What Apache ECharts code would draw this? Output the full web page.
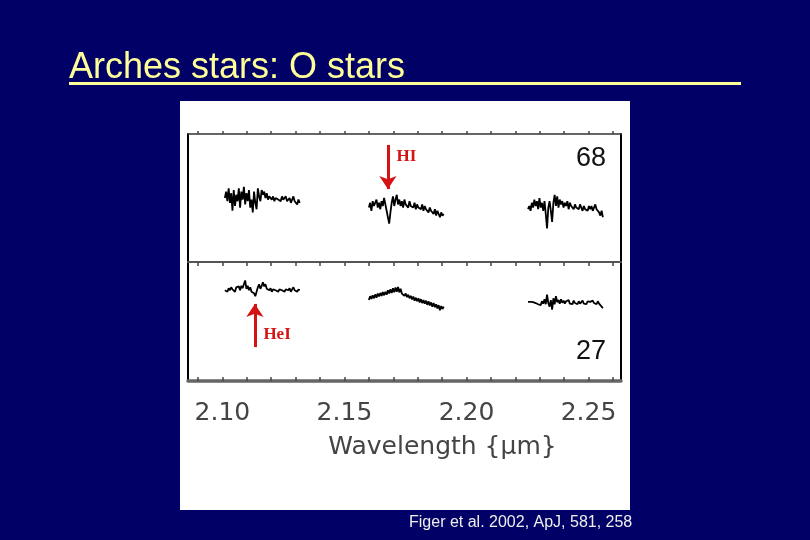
<!DOCTYPE html>
<html><head><meta charset="utf-8">
<script src="https://cdn.jsdelivr.net/npm/echarts@6/dist/echarts.min.js"></script>
<style>html,body{margin:0;padding:0;background:#000066}#c{width:810px;height:540px}</style>
</head><body><div id="c"></div>
<script>
const titleText = 'Arches stars: O stars';
const citation = 'Figer et al. 2002, ApJ, 581, 258';
const axisTitle = 'Wavelength {\u03bcm}';
const starLabels = ['68', '27'];
const lineNames = ['HI', 'HeI'];
const lineWavelengths = [2.1678, 2.1133];
const xMin = 2.0859, xMax = 2.2633;
const minorTicks = [2.09, 2.10, 2.11, 2.12, 2.13, 2.14, 2.15, 2.16, 2.17, 2.18, 2.19, 2.20, 2.21, 2.22, 2.23, 2.24, 2.25, 2.26];
const majorTicks = [2.10, 2.15, 2.20, 2.25];
const segStart = [2.1010, 2.1600, 2.2252];
const sampleStep = 0.00052;

// Star 68 (top panel), normalized flux
const star68_seg1 = [1.00, 1.02, 0.99, 1.03, 0.985, 1.015, 0.96, 1.025, 0.975, 1.01,
  0.99, 1.03, 0.97, 1.02, 0.995, 1.035, 0.98, 1.015, 0.99, 1.025,
  0.97, 0.995, 0.955, 1.02, 0.985, 0.965, 1.03, 1.005, 0.99, 1.025,
  1.01, 1.02, 1.0, 1.015, 0.995, 1.005, 1.01, 0.995, 1.005, 0.99,
  1.0, 1.005, 0.995, 1.0, 0.99, 1.005, 0.995, 1.0, 1.005, 0.99,
  0.995, 1.0, 0.985, 0.995, 1.005, 0.99, 0.995, 0.98, 0.995, 0.985];
const star68_seg2 = [0.97, 0.985, 0.96, 0.99, 0.975, 0.98, 0.995, 0.97, 0.985, 0.965,
  0.99, 0.975, 1.0, 0.98, 0.96, 0.94, 0.92, 0.955, 0.985, 1.005,
  0.975, 0.995, 1.01, 0.98, 0.995, 0.975, 0.99, 0.97, 0.995, 0.98,
  0.985, 0.97, 0.99, 0.975, 0.98, 0.97, 0.985, 0.965, 0.98, 0.97,
  0.975, 0.965, 0.98, 0.96, 0.975, 0.965, 0.97, 0.955, 0.97, 0.96,
  0.965, 0.95, 0.965, 0.945, 0.96, 0.95, 0.94, 0.955, 0.945, 0.95];
const star68_seg3 = [0.965, 0.975, 0.96, 0.985, 0.97, 0.995, 0.975, 0.99, 0.965, 1.0,
  0.97, 0.985, 0.96, 0.99, 0.95, 0.905, 0.97, 0.99, 0.96, 0.925,
  0.985, 1.01, 0.975, 1.005, 0.97, 0.995, 0.98, 0.99, 0.97, 0.985,
  0.975, 0.99, 0.965, 0.985, 0.975, 0.98, 0.965, 0.98, 0.97, 0.975,
  0.965, 0.98, 0.97, 0.96, 0.975, 0.965, 0.97, 0.96, 0.975, 0.965,
  0.975, 0.96, 0.97, 0.98, 0.965, 0.97, 0.955, 0.945, 0.96, 0.94];
// Star 27 (bottom panel)
const star27_seg1 = [1.105, 1.11, 1.10, 1.112, 1.105, 1.115, 1.108, 1.112, 1.10, 1.115,
  1.11, 1.118, 1.105, 1.12, 1.112, 1.125, 1.138, 1.11, 1.12, 1.105,
  1.115, 1.10, 1.105, 1.095, 1.085, 1.10, 1.115, 1.125, 1.11, 1.12,
  1.132, 1.118, 1.125, 1.11, 1.115, 1.105, 1.112, 1.10, 1.108, 1.112,
  1.105, 1.11, 1.10, 1.108, 1.112, 1.105, 1.11, 1.10, 1.108, 1.112,
  1.105, 1.112, 1.10, 1.108, 1.115, 1.105, 1.11, 1.10, 1.108, 1.105];
const star27_seg2 = [1.072, 1.085, 1.076, 1.088, 1.078, 1.091, 1.08, 1.094, 1.084, 1.096,
  1.086, 1.099, 1.088, 1.10, 1.09, 1.105, 1.094, 1.108, 1.096, 1.112,
  1.098, 1.114, 1.10, 1.116, 1.098, 1.11, 1.094, 1.10, 1.086, 1.094,
  1.082, 1.09, 1.078, 1.086, 1.074, 1.084, 1.07, 1.08, 1.068, 1.078,
  1.064, 1.075, 1.062, 1.072, 1.06, 1.07, 1.056, 1.068, 1.054, 1.064,
  1.05, 1.062, 1.048, 1.058, 1.044, 1.055, 1.038, 1.052, 1.042, 1.05];
const star27_seg3 = [1.066, 1.068, 1.066, 1.067, 1.065, 1.066, 1.062, 1.064, 1.058, 1.062,
  1.055, 1.068, 1.06, 1.075, 1.058, 1.09, 1.062, 1.05, 1.072, 1.04,
  1.078, 1.058, 1.085, 1.065, 1.072, 1.06, 1.075, 1.063, 1.07, 1.06,
  1.068, 1.062, 1.072, 1.06, 1.066, 1.058, 1.07, 1.062, 1.065, 1.058,
  1.068, 1.06, 1.066, 1.07, 1.06, 1.065, 1.058, 1.068, 1.062, 1.066,
  1.06, 1.07, 1.062, 1.066, 1.058, 1.068, 1.06, 1.055, 1.05, 1.045];

// arrow extents (flux units) for the line markers
const arrowHI = [1.166, 1.028];
const arrowHeI = [0.914, 1.059];
const labelFluxHI = 1.128, labelFluxHeI = 0.955;

function toPairs(start, vals) { return vals.map((v, i) => [start + i * sampleStep, v]); }

const chart = echarts.init(document.getElementById('c'), null, {renderer: 'canvas'});
const red = '#d41414';
const specStyle = {color: '#000', width: 1.8};
function seg(grid, start, vals, extra) {
  return Object.assign({
    type: 'line', xAxisIndex: grid, yAxisIndex: grid * 2, data: toPairs(start, vals),
    showSymbol: false, lineStyle: specStyle, silent: true, animation: false
  }, extra || {});
}
function arrow(x, y0, y1, name, yl) {
  return {
    markLine: {
      silent: true, symbol: ['none', 'arrow'], symbolSize: 13, label: {show: false},
      lineStyle: {color: red, width: 3, type: 'solid'},
      data: [[{coord: [x, y0]}, {coord: [x, y1]}]], animation: false
    },
    markPoint: {
      silent: true, symbol: 'circle', symbolSize: 1, itemStyle: {color: 'rgba(0,0,0,0)'},
      label: {show: true, position: 'right', distance: 8, formatter: name, color: red,
        fontFamily: 'Liberation Serif', fontWeight: 'bold', fontSize: 17},
      data: [{coord: [x, yl]}], animation: false
    }
  };
}
const tickCommon = {show: true, customValues: minorTicks, lineStyle: {color: '#444', width: 1.5}};
const option = {
  backgroundColor: '#000066',
  animation: false,
  grid: [
    {left: 188, right: 189, top: 134, height: 128},
    {left: 188, right: 189, top: 262, height: 119}
  ],
  xAxis: [
    {gridIndex: 0, type: 'value', min: xMin, max: xMax, position: 'top',
     axisLine: {show: true, lineStyle: {color: '#333', width: 1.5}},
     axisTick: Object.assign({}, tickCommon, {inside: false, length: 3}),
     axisLabel: {show: false}, splitLine: {show: false}},
    {gridIndex: 1, type: 'value', min: xMin, max: xMax, position: 'bottom',
     axisLine: {show: true, lineStyle: {color: '#666', width: 3.5}},
     axisTick: Object.assign({}, tickCommon, {inside: true, length: 4}),
     axisLabel: {show: true, customValues: majorTicks, formatter: v => v.toFixed(2), color: '#444',
       fontFamily: 'DejaVu Sans', fontSize: 25, margin: 20},
     splitLine: {show: false}},
    {gridIndex: 1, type: 'value', min: xMin, max: xMax, position: 'top',
     axisLine: {show: true, lineStyle: {color: '#555', width: 2.2}},
     axisTick: Object.assign({}, tickCommon, {inside: true, length: 4}),
     axisLabel: {show: false}, splitLine: {show: false}}
  ],
  yAxis: [
    {gridIndex: 0, type: 'value', min: 0.8, max: 1.2, position: 'left',
     axisLine: {show: true, lineStyle: {color: '#000', width: 2}}, axisTick: {show: false}, axisLabel: {show: false}, splitLine: {show: false}},
    {gridIndex: 0, type: 'value', min: 0.8, max: 1.2, position: 'right',
     axisLine: {show: true, lineStyle: {color: '#000', width: 2}}, axisTick: {show: false}, axisLabel: {show: false}, splitLine: {show: false}},
    {gridIndex: 1, type: 'value', min: 0.8, max: 1.2, position: 'left',
     axisLine: {show: true, lineStyle: {color: '#000', width: 2}}, axisTick: {show: false}, axisLabel: {show: false}, splitLine: {show: false}},
    {gridIndex: 1, type: 'value', min: 0.8, max: 1.2, position: 'right',
     axisLine: {show: true, lineStyle: {color: '#000', width: 2}}, axisTick: {show: false}, axisLabel: {show: false}, splitLine: {show: false}}
  ],
  series: [
    seg(0, segStart[0], star68_seg1),
    seg(0, segStart[1], star68_seg2, arrow(lineWavelengths[0], arrowHI[0], arrowHI[1], lineNames[0], labelFluxHI)),
    seg(0, segStart[2], star68_seg3),
    seg(1, segStart[0], star27_seg1, arrow(lineWavelengths[1], arrowHeI[0], arrowHeI[1], lineNames[1], labelFluxHeI)),
    seg(1, segStart[1], star27_seg2),
    seg(1, segStart[2], star27_seg3)
  ],
  graphic: [
    {type: 'rect', z: -10, shape: {x: 180, y: 101, width: 450, height: 409}, style: {fill: '#ffffff'}, silent: true},
    {type: 'text', x: 69, y: 50, style: {text: titleText, fontFamily: 'Liberation Sans', fontSize: 36, fill: '#ffff99'}},
    {type: 'rect', shape: {x: 69, y: 82, width: 672, height: 3}, style: {fill: '#ffff99'}},
    {type: 'text', x: 442.5, y: 447, style: {text: axisTitle, fontFamily: 'DejaVu Sans', fontSize: 25, fill: '#444', align: 'center', verticalAlign: 'middle'}},
    {type: 'text', x: 591, y: 159, style: {text: starLabels[0], fontFamily: 'Liberation Sans', fontSize: 27, fill: '#111', align: 'center', verticalAlign: 'middle'}},
    {type: 'text', x: 591, y: 352, style: {text: starLabels[1], fontFamily: 'Liberation Sans', fontSize: 27, fill: '#111', align: 'center', verticalAlign: 'middle'}},
    {type: 'text', x: 409, y: 523, style: {text: citation, fontFamily: 'Liberation Sans', fontSize: 16, fill: '#eeeeee', verticalAlign: 'middle'}}
  ]
};
chart.setOption(option);
</script></body></html>
